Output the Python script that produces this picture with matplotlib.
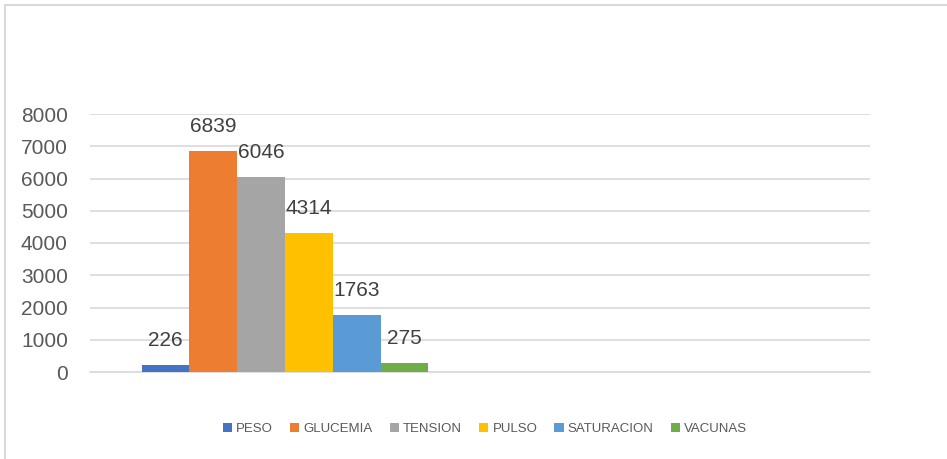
import matplotlib.pyplot as plt
from matplotlib.lines import Line2D

# Datos
series = ['PESO', 'GLUCEMIA', 'TENSION', 'PULSO', 'SATURACION', 'VACUNAS']
valores = [226, 6839, 6046, 4314, 1763, 275]
colores = ['#4472C4', '#ED7D31', '#A5A5A5', '#FFC000', '#5B9BD5', '#70AD47']
yticks = [0, 1000, 2000, 3000, 4000, 5000, 6000, 7000, 8000]

plt.rcParams['font.family'] = ['Liberation Sans', 'DejaVu Sans']

fig = plt.figure(figsize=(9.47, 4.59), dpi=100)
ax = fig.add_axes([90 / 947, 1 - 372 / 459, 780 / 947, (372 - 114) / 459])

ancho = 0.1226
n = len(series)
for i, (nombre, v, c) in enumerate(zip(series, valores, colores)):
    x = (i - (n - 1) / 2) * ancho
    ax.bar(x, v, width=ancho, color=c, label=nombre, zorder=3)
    ax.annotate(str(v), (x, v), xytext=(0, 13.7), textcoords='offset points',
                ha='center', va='baseline', fontsize=15, color='#404040', zorder=4)

ax.set_xlim(-0.5, 1.5)
ax.set_ylim(0, 8000)
ax.set_yticks(yticks)
ax.set_xticks([])
ax.tick_params(axis='y', length=0, labelsize=15, labelcolor='#595959', pad=16)
ax.grid(axis='y', color='#D9D9D9', linewidth=1.2, zorder=0)
for s in ['top', 'right', 'left']:
    ax.spines[s].set_visible(False)
ax.spines['bottom'].set_color('#D9D9D9')
ax.spines['bottom'].set_linewidth(1.2)

fig.legend(loc='center', bbox_to_anchor=(485 / 947, 1 - 429 / 459), ncol=6,
           frameon=False, fontsize=9.5, labelcolor='#595959',
           handlelength=0.7, handleheight=0.7, handletextpad=0.3,
           columnspacing=1.3)

# marco de la figura (solo izquierda y arriba visibles)
fig.add_artist(Line2D([5 / 947, 5 / 947], [0, 1 - 5 / 459], color='#D9D9D9', linewidth=1.5))
fig.add_artist(Line2D([5 / 947, 1], [1 - 5 / 459, 1 - 5 / 459], color='#D9D9D9', linewidth=1.5))

fig.savefig('out.png', dpi=100)
